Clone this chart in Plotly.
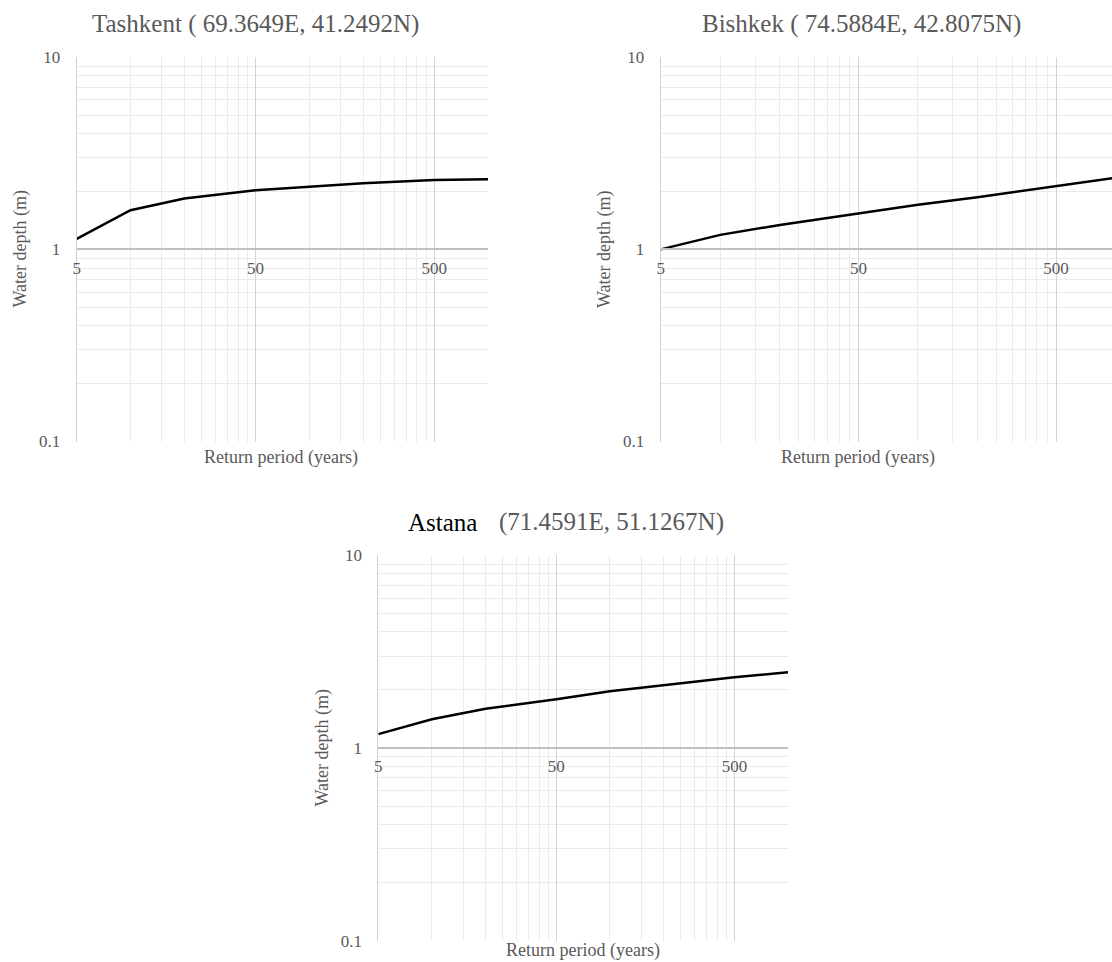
import math
import plotly.graph_objects as go

# ---- data ----
return_periods = [5, 10, 20, 50, 100, 200, 500, 1000]
tashkent_depth = [1.135, 1.60, 1.84, 2.03, 2.12, 2.21, 2.30, 2.32]
bishkek_depth = [1.00, 1.19, 1.34, 1.54, 1.71, 1.87, 2.14, 2.36]
astana_depth = [1.18, 1.41, 1.60, 1.79, 1.97, 2.12, 2.33, 2.47]

x_major_ticks = [5, 50, 500]
x_major_labels = ["5", "50", "500"]
x_minor_ticks = [5 * k for k in range(2, 10)] + [50 * k for k in range(2, 10)] + [1000]
y_major_ticks = [0.1, 1, 10]
y_major_labels = ["0.1", "1", "10"]
y_minor_ticks = [0.1 * k for k in range(2, 10)] + [float(k) for k in range(2, 10)]

titles = ["Tashkent ( 69.3649E, 41.2492N)", "Bishkek ( 74.5884E, 42.8075N)"]
astana_name = "Astana"
astana_coords = "(71.4591E, 51.1267N)"
x_title = "Return period (years)"
y_title = "Water depth (m)"

W, H = 1112, 962
FONT = "Liberation Serif"
GRAY = "#595959"

def px_x(p):
    return p / W

def px_y(p):
    return 1 - p / H

# panel geometry in pixels: (left, right, top, bottom)
panels = [
    (76.7, 488.0, 57.3, 441.5),
    (660.7, 1112.0, 57.3, 441.5),
    (378.3, 788.0, 555.3, 940.7),
]
x_ranges = [
    [math.log10(5), 3.0],
    [math.log10(5), math.log10(5) + (1112 - 660.7) / 197.7],
    [math.log10(5), 3.0],
]

fig = go.Figure()
series = [tashkent_depth, bishkek_depth, astana_depth]
for i, ys in enumerate(series):
    sfx = "" if i == 0 else str(i + 1)
    fig.add_trace(go.Scatter(
        x=return_periods, y=ys, mode="lines",
        line=dict(color="black", width=2.5),
        xaxis="x" + sfx, yaxis="y" + sfx, showlegend=False,
        hoverinfo="skip",
    ))

layout = dict(
    width=W, height=H,
    margin=dict(l=0, r=0, t=0, b=0, autoexpand=False),
    paper_bgcolor="white", plot_bgcolor="white",
    font=dict(family=FONT, color=GRAY),
    annotations=[],
)

for i, (l, r, t, b) in enumerate(panels):
    sfx = "" if i == 0 else str(i + 1)
    ydom = [px_y(b), px_y(t)]
    xaxis = dict(
        type="log", range=x_ranges[i], domain=[px_x(l), px_x(r)],
        anchor="free", position=(ydom[0] + ydom[1]) / 2,
        automargin=False,
        tickmode="array", tickvals=x_major_ticks, ticktext=x_major_labels,
        ticks="", ticklabelstandoff=3,
        tickfont=dict(family=FONT, size=17, color=GRAY),
        showline=True, linecolor="#bfbfbf", linewidth=2,
        showgrid=True, gridcolor="#d4d4d4", gridwidth=1,
        minor=dict(tickmode="array", tickvals=x_minor_ticks, showgrid=True,
                   gridcolor="#ebebeb", gridwidth=1, ticks=""),
        zeroline=False, fixedrange=True,
    )
    yaxis = dict(
        type="log", range=[-1, 1], domain=ydom, anchor="x" + sfx,
        automargin=False,
        tickmode="array", tickvals=y_major_ticks, ticktext=y_major_labels,
        ticks="", ticklabelstandoff=12,
        tickfont=dict(family=FONT, size=17, color=GRAY),
        showline=True, linecolor="#d0d0d0", linewidth=1,
        showgrid=True, gridcolor="#d4d4d4", gridwidth=1,
        minor=dict(tickmode="array", tickvals=y_minor_ticks, showgrid=True,
                   gridcolor="#ebebeb", gridwidth=1, ticks=""),
        zeroline=False, fixedrange=True,
    )
    layout["xaxis" + sfx] = xaxis
    layout["yaxis" + sfx] = yaxis

ann = layout["annotations"]
# chart titles
ann.append(dict(text=titles[0], x=px_x(255), y=px_y(24), xref="paper", yref="paper",
                xanchor="center", yanchor="middle", showarrow=False,
                font=dict(family=FONT, size=25, color=GRAY)))
ann.append(dict(text=titles[1], x=px_x(861.5), y=px_y(24), xref="paper", yref="paper",
                xanchor="center", yanchor="middle", showarrow=False,
                font=dict(family=FONT, size=25, color=GRAY)))
ann.append(dict(text=astana_name, x=px_x(406), y=px_y(522), xref="paper", yref="paper",
                xanchor="left", yanchor="middle", showarrow=False,
                font=dict(family=FONT, size=25, color="black")))
ann.append(dict(text=astana_coords, x=px_x(497), y=px_y(522), xref="paper", yref="paper",
                xanchor="left", yanchor="middle", showarrow=False,
                font=dict(family=FONT, size=25, color=GRAY)))

# axis titles
xt_pos = [(281, 457), (858, 457), (582.5, 950.5)]
yt_pos = [(19.5, 249), (604, 249), (321.5, 748)]
for (xx, yy) in xt_pos:
    ann.append(dict(text=x_title, x=px_x(xx), y=px_y(yy), xref="paper", yref="paper",
                    xanchor="center", yanchor="middle", showarrow=False, borderpad=0,
                    font=dict(family=FONT, size=18, color=GRAY)))
for (xx, yy) in yt_pos:
    ann.append(dict(text=y_title, x=px_x(xx), y=px_y(yy), xref="paper", yref="paper",
                    xanchor="center", yanchor="middle", showarrow=False, textangle=-90,
                    font=dict(family=FONT, size=18, color=GRAY)))

fig.update_layout(**layout)
fig.write_html("out.html")
